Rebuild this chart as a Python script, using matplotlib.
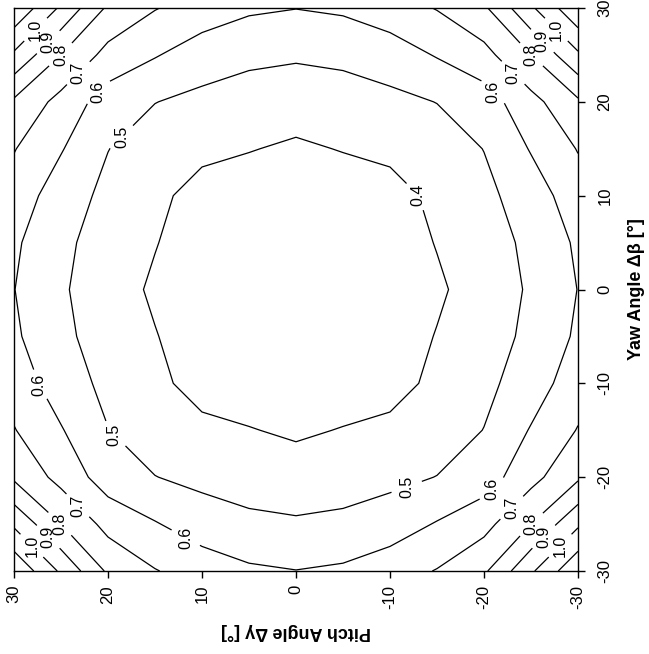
import numpy as np
import matplotlib
matplotlib.use("Agg")
import matplotlib.pyplot as plt

plt.rcParams['font.family'] = ['Liberation Sans', 'DejaVu Sans']

# Grid axes (degrees)
pitch = [-30, -25, -20, -15, -10, -5, 0, 5, 10, 15, 20, 25, 30]
yaw = [-30, -25, -20, -15, -10, -5, 0, 5, 10, 15, 20, 25, 30]

# Field values: rows = yaw (-30..30), columns = pitch (-30..30)
z = [
    [1.184, 0.984, 0.784, 0.705, 0.655, 0.615, 0.602, 0.615, 0.655, 0.705, 0.784, 0.984, 1.184],
    [0.984, 0.800, 0.668, 0.607, 0.550, 0.525, 0.513, 0.525, 0.550, 0.607, 0.668, 0.800, 0.984],
    [0.784, 0.668, 0.551, 0.502, 0.475, 0.450, 0.440, 0.450, 0.475, 0.502, 0.551, 0.668, 0.784],
    [0.705, 0.607, 0.502, 0.450, 0.414, 0.404, 0.387, 0.404, 0.414, 0.450, 0.502, 0.607, 0.705],
    [0.655, 0.550, 0.475, 0.414, 0.378, 0.355, 0.350, 0.355, 0.378, 0.414, 0.475, 0.550, 0.655],
    [0.615, 0.525, 0.450, 0.404, 0.355, 0.340, 0.335, 0.340, 0.355, 0.404, 0.450, 0.525, 0.615],
    [0.602, 0.513, 0.440, 0.387, 0.350, 0.335, 0.330, 0.335, 0.350, 0.387, 0.440, 0.513, 0.602],
    [0.615, 0.525, 0.450, 0.404, 0.355, 0.340, 0.335, 0.340, 0.355, 0.404, 0.450, 0.525, 0.615],
    [0.655, 0.550, 0.475, 0.414, 0.378, 0.355, 0.350, 0.355, 0.378, 0.414, 0.475, 0.550, 0.655],
    [0.705, 0.607, 0.502, 0.450, 0.414, 0.404, 0.387, 0.404, 0.414, 0.450, 0.502, 0.607, 0.705],
    [0.784, 0.668, 0.551, 0.502, 0.475, 0.450, 0.440, 0.450, 0.475, 0.502, 0.551, 0.668, 0.784],
    [0.984, 0.800, 0.668, 0.607, 0.550, 0.525, 0.513, 0.525, 0.550, 0.607, 0.668, 0.800, 0.984],
    [1.184, 0.984, 0.784, 0.705, 0.655, 0.615, 0.602, 0.615, 0.655, 0.705, 0.784, 0.984, 1.184],
]

levels = [0.4, 0.5, 0.6, 0.7, 0.8, 0.9, 1.0, 1.1]

tick_values = [30, 20, 10, 0, -10, -20, -30]
tick_labels = ['30', '20', '10', '0', '-10', '-20', '-30']

# where labels sit (pitch, yaw)
label_positions = [
    (27.6, 27.6), (26.1, 26.1), (24.5, 24.5), (22.8, 22.7), (21.0, 21.0), (18.5, 16.2),
    (-12.8, 9.9), (-20.9, 21.0), (-22.7, 22.7), (-24.5, 24.5), (-26.0, 26.3), (-27.6, 27.6),
    (27.6, -10.3), (19.1, -15.2), (22.8, -22.6), (24.5, -24.3), (26.1, -26.1), (28.1, -27.3),
    (11.7, -26.4),
    (-11.8, -21.1), (-20.9, -21.3), (-22.4, -22.7), (-24.5, -24.5), (-26.1, -26.1), (-28.1, -27.3),
]

W, H = 649, 654
fig = plt.figure(figsize=(W / 100, H / 100), dpi=100)
ax = fig.add_axes([14 / W, (H - 571) / H, (578 - 14) / W, (571 - 8) / H])

P, Y = np.meshgrid(pitch, yaw)
cs = ax.contour(P, Y, np.array(z), levels=levels, colors='black', linewidths=0.9)

ax.set_xlim(30, -30)
ax.set_ylim(-30, 30)

ax.clabel(cs, levels=levels[:-1], inline=True, inline_spacing=5, fmt='%.1f',
          fontsize=11.5, manual=label_positions)
for t in cs.labelTexts:
    t.set_rotation(90)
    t.set_rotation_mode('anchor')
    t.set_ha('center')
    t.set_va('center')

ax.set_xticks(tick_values)
ax.set_xticklabels(tick_labels, rotation=90, fontsize=12)
ax.set_yticks(tick_values)
ax.set_yticklabels(tick_labels, rotation=90, fontsize=12, va='center')
ax.yaxis.tick_right()
ax.yaxis.set_label_position('right')
ax.tick_params(axis='x', direction='out', length=5, width=1, pad=5)
ax.tick_params(axis='y', direction='out', length=5, width=1, pad=9, left=False, right=True)

for s in ax.spines.values():
    s.set_linewidth(1.0)

ax.set_xlabel('Pitch Angle Δγ [°]', fontsize=13, fontweight='bold', rotation=180, labelpad=10)
ax.set_ylabel('Yaw Angle Δβ [°]', fontsize=13, fontweight='bold', rotation=90, labelpad=11)

fig.savefig('out.png', dpi=100)
